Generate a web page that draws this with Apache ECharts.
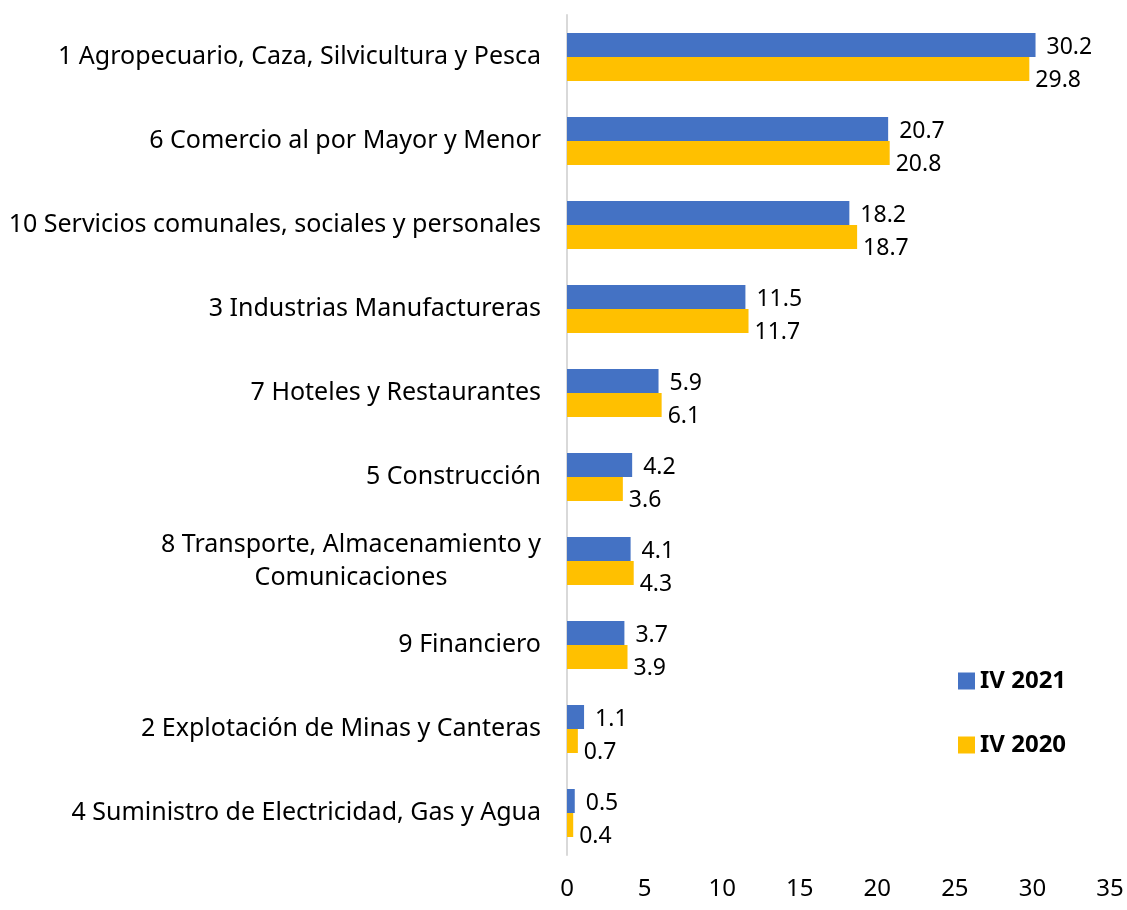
<!DOCTYPE html>
<html>
<head>
<meta charset="utf-8">
<script src="https://cdn.jsdelivr.net/npm/echarts@6/dist/echarts.min.js"></script>
<style>
  html, body { margin: 0; padding: 0; background: #fff; }
  #chart { width: 1127px; height: 910px; }
</style>
</head>
<body>
<div id="chart"></div>
<script>
// sectores, de mayor a menor
const categories = [
  '1 Agropecuario, Caza, Silvicultura y Pesca',
  '6 Comercio al por Mayor y Menor',
  '10 Servicios comunales, sociales y personales',
  '3 Industrias Manufactureras',
  '7 Hoteles y Restaurantes',
  '5 Construcción',
  '8 Transporte, Almacenamiento y\nComunicaciones',
  '9 Financiero',
  '2 Explotación de Minas y Canteras',
  '4 Suministro de Electricidad, Gas y Agua',
]
const iv2021 = [30.2, 20.7, 18.2, 11.5, 5.9, 4.2, 4.1, 3.7, 1.1, 0.5]
const iv2020 = [29.8, 20.8, 18.7, 11.7, 6.1, 3.6, 4.3, 3.9, 0.7, 0.4]
const xTicks = [0, 5, 10, 15, 20, 25, 30, 35]

const FONT = 'Noto Sans'
const chart = echarts.init(document.getElementById('chart'))

chart.setOption({
  animation: false,
  textStyle: { fontFamily: FONT },
  color: ['#4472C4', '#FFC000'],
  grid: { left: 567, right: 17, top: 15, bottom: 55 },
  legend: {
    orient: 'vertical',
    left: 953,
    top: 664,
    itemGap: 40,
    itemWidth: 17,
    itemHeight: 17,
    icon: 'rect',
    textStyle: { fontSize: 24, fontWeight: 'bold', color: '#000', fontFamily: FONT },
    data: ['IV 2021', 'IV 2020'],
  },
  xAxis: {
    type: 'value',
    min: xTicks[0],
    max: xTicks[xTicks.length - 1],
    interval: 5,
    axisLine: { show: false },
    axisTick: { show: false },
    splitLine: { show: false },
    axisLabel: { fontSize: 24, color: '#000', margin: 22 },
  },
  yAxis: {
    type: 'category',
    inverse: true,
    data: categories,
    axisLine: { show: true, lineStyle: { color: '#d9d9d9', width: 2 } },
    axisTick: { show: false },
    axisLabel: {
      fontSize: 25,
      color: '#000',
      margin: 26,
      lineHeight: 33,
      formatter: v => v.indexOf('\n') >= 0
        ? v.split('\n').map(s => '{c|' + s + '}').join('\n')
        : v,
      rich: { c: { align: 'center', fontSize: 25, lineHeight: 33, fontFamily: FONT } },
    },
  },
  series: [{
    name: 'IV 2021',
    type: 'bar',
    data: iv2021,
    barWidth: 24,
    barGap: '0%',
    label: { show: true, position: 'right', distance: 11, offset: [0, 2], fontSize: 23, color: '#000' },
  }, {
    name: 'IV 2020',
    type: 'bar',
    data: iv2020,
    barWidth: 24,
    barGap: '0%',
    label: { show: true, position: 'right', distance: 6, offset: [0, 11], fontSize: 23, color: '#000' },
  }],
})
</script>
</body>
</html>
